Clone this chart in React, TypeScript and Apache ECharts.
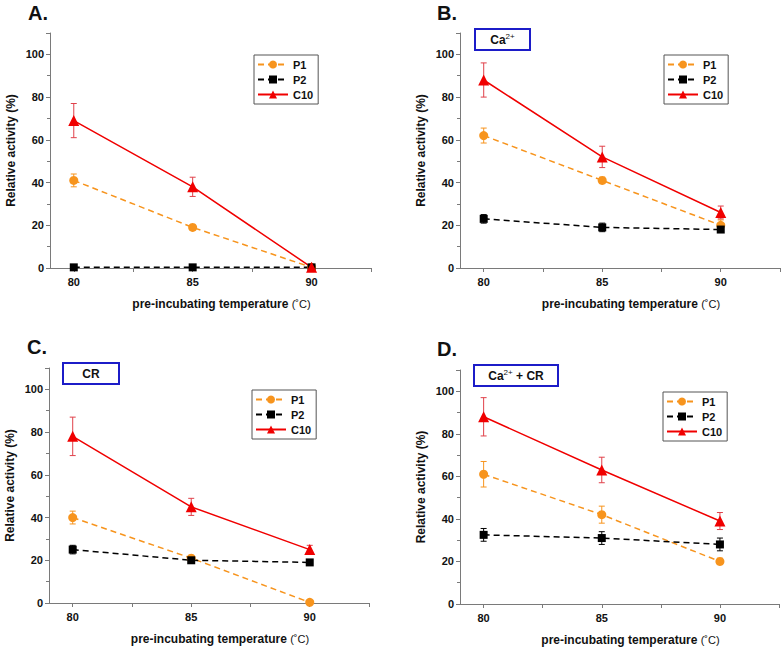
import React, { useEffect, useRef } from "react";
import * as echarts from "echarts";

// x categories (pre-incubating temperature, °C)
const temps = [80, 85, 90];
const seriesNames = ["P1", "P2", "C10"];
const yLabelValues = [0, 20, 40, 60, 80, 100];
const xLabelValues = [80, 85, 90];
const xTickValues = [80, 82.5, 85, 87.5, 90, 92.5];

// Panel A (no additive)
const aP1 = [41, 19, 0.3];
const aP1Err = [3, 1, 0];
const aP2 = [0.3, 0.3, 0.3];
const aP2Err = [0, 0, 0];
const aC10 = [69, 38, 0.3];
const aC10Err = [8, 4.5, 0];

// Panel B (Ca2+)
const bP1 = [62, 41, 20];
const bP1Err = [3.5, 1.5, 2.5];
const bP2 = [23, 19, 18];
const bP2Err = [2, 2, 1];
const bC10 = [88, 52, 26];
const bC10Err = [8, 5, 3];

// Panel C (CR)
const cP1 = [40, 21, 0.3];
const cP1Err = [3, 1, 0];
const cP2 = [25, 20, 19];
const cP2Err = [2, 1.5, 1];
const cC10 = [78, 45, 25];
const cC10Err = [9, 4, 2];

// Panel D (Ca2+ + CR)
const dP1 = [61, 42, 20];
const dP1Err = [6, 4, 1.5];
const dP2 = [32.5, 31, 28];
const dP2Err = [3, 3, 3];
const dC10 = [88, 63, 39];
const dC10Err = [9, 6, 4];

const FONT = "Arial, 'Liberation Sans', sans-serif";
const ORANGE = "#f7941d";
const RED = "#f00000";
const ERR_RED = "#e0404a";
const AXIS = "#7a7a7a";

type Panel = {
  letter: string;
  grid: { left: number; top: number; width: number; height: number };
  letterPos: [number, number];
  legendPos: [number, number];
  box?: { x: number; y: number; w: number; h: number; text: string };
  means: number[][];
  errs: number[][];
};

const panels: Panel[] = [
  {
    letter: "A.",
    grid: { left: 50, top: 33, width: 321, height: 235 },
    letterPos: [28, 13],
    legendPos: [254, 55],
    means: [aP1, aP2, aC10],
    errs: [aP1Err, aP2Err, aC10Err],
  },
  {
    letter: "B.",
    grid: { left: 460, top: 33, width: 320, height: 235 },
    letterPos: [437, 13],
    legendPos: [664, 55],
    box: { x: 475, y: 29, w: 55, h: 21, text: "{n|Ca}{s|2+}" },
    means: [bP1, bP2, bC10],
    errs: [bP1Err, bP2Err, bC10Err],
  },
  {
    letter: "C.",
    grid: { left: 49, top: 368, width: 320, height: 235 },
    letterPos: [27, 347],
    legendPos: [252, 390],
    box: { x: 63, y: 363, w: 56, h: 21, text: "{n|CR}" },
    means: [cP1, cP2, cC10],
    errs: [cP1Err, cP2Err, cC10Err],
  },
  {
    letter: "D.",
    grid: { left: 460, top: 370, width: 319, height: 234 },
    letterPos: [437, 349],
    legendPos: [663, 392],
    box: { x: 474, y: 365, w: 84, h: 21, text: "{n|Ca}{s|2+}{n| + CR}" },
    means: [dP1, dP2, dC10],
    errs: [dP1Err, dP2Err, dC10Err],
  },
];

const styles = [
  { color: ORANGE, errColor: ORANGE, symbol: "circle", size: 9, type: [6, 4] as any },
  { color: "#000", errColor: "#000", symbol: "rect", size: 8, type: [6, 4] as any },
  { color: RED, errColor: ERR_RED, symbol: "triangle", size: 11, type: "solid" as any },
];

function buildOption() {
  const grid: any[] = [];
  const xAxis: any[] = [];
  const yAxis: any[] = [];
  const series: any[] = [];
  const legend: any[] = [];
  const graphic: any[] = [];

  panels.forEach((p, pi) => {
    grid.push({ ...p.grid });
    xAxis.push({
      type: "value",
      gridIndex: pi,
      min: 79,
      max: 92.5,
      name: "{b|pre-incubating temperature} {c|(˚C)}",
      nameLocation: "middle",
      nameGap: 30,
      nameTextStyle: {
        padding: [0, 0, 0, 22],
        rich: {
          b: { fontFamily: FONT, fontWeight: "bold", fontSize: 12, color: "#111" },
          c: { fontFamily: FONT, fontSize: 11, color: "#111" },
        },
      },
      axisLine: { show: true, onZero: false, lineStyle: { color: AXIS, width: 1 } },
      axisTick: { show: true, length: 4, customValues: xTickValues, lineStyle: { color: AXIS } },
      axisLabel: {
        customValues: xLabelValues,
        fontFamily: FONT,
        fontWeight: "bold",
        fontSize: 11,
        color: "#111",
        margin: 8,
      },
      splitLine: { show: false },
    });
    yAxis.push({
      type: "value",
      gridIndex: pi,
      min: 0,
      max: 110,
      interval: 20,
      name: "Relative activity (%)",
      nameLocation: "middle",
      nameGap: 33,
      nameTextStyle: { fontFamily: FONT, fontWeight: "bold", fontSize: 12, color: "#111" },
      axisLine: { show: true, onZero: false, lineStyle: { color: AXIS, width: 1 } },
      axisTick: { show: true, length: 4, lineStyle: { color: AXIS } },
      minorTick: { show: true, splitNumber: 2, length: 3, lineStyle: { color: AXIS } },
      axisLabel: {
        customValues: yLabelValues,
        fontFamily: FONT,
        fontWeight: "bold",
        fontSize: 11,
        color: "#111",
        margin: 6,
      },
      splitLine: { show: false },
      minorSplitLine: { show: false },
    });

    seriesNames.forEach((name, si) => {
      const st = styles[si];
      const mean = p.means[si];
      const err = p.errs[si];
      series.push({
        type: "custom",
        name: "err_" + pi + "_" + name,
        xAxisIndex: pi,
        yAxisIndex: pi,
        z: 1,
        silent: true,
        data: temps.map((t, k) => [t, mean[k] - err[k], mean[k] + err[k]]),
        encode: { x: 0, y: [1, 2] },
        renderItem: (params: any, api: any) => {
          const x = api.value(0);
          const lo = api.value(1);
          const hi = api.value(2);
          if (hi - lo <= 0) return { type: "group", children: [] };
          const top = api.coord([x, hi]);
          const bot = api.coord([x, lo]);
          const w = 3;
          const s = { stroke: st.errColor, lineWidth: 1 };
          return {
            type: "group",
            children: [
              { type: "line", shape: { x1: top[0], y1: top[1], x2: bot[0], y2: bot[1] }, style: s },
              { type: "line", shape: { x1: top[0] - w, y1: top[1], x2: top[0] + w, y2: top[1] }, style: s },
              { type: "line", shape: { x1: bot[0] - w, y1: bot[1], x2: bot[0] + w, y2: bot[1] }, style: s },
            ],
          };
        },
      });
      series.push({
        type: "line",
        name,
        xAxisIndex: pi,
        yAxisIndex: pi,
        z: 3,
        data: temps.map((t, k) => [t, mean[k]]),
        symbol: st.symbol,
        symbolSize: st.size,
        showAllSymbol: true,
        color: st.color,
        itemStyle: { color: st.color },
        lineStyle: { color: st.color, width: 1.5, type: st.type },
      });
    });

    legend.push({
      data: seriesNames,
      orient: "vertical",
      left: p.legendPos[0],
      top: p.legendPos[1],
      itemWidth: 30,
      itemHeight: 10,
      itemGap: 4,
      padding: [4, 5, 4, 3],
      borderColor: "#555",
      borderWidth: 1,
      selectedMode: false,
      textStyle: { fontFamily: FONT, fontWeight: "bold", fontSize: 11, color: "#111" },
    });

    graphic.push({
      type: "text",
      left: p.letterPos[0],
      top: p.letterPos[1] - 10,
      style: { text: p.letter, font: `bold 20px ${FONT}`, fill: "#111" },
    });

    if (p.box) {
      graphic.push({
        type: "rect",
        shape: { x: p.box.x, y: p.box.y, width: p.box.w, height: p.box.h },
        style: { fill: "#fff", stroke: "#1c1cc8", lineWidth: 2 },
        z: 10,
      });
      graphic.push({
        type: "text",
        x: p.box.x + p.box.w / 2,
        y: p.box.y + p.box.h / 2,
        z: 11,
        style: {
          text: p.box.text,
          align: "center",
          verticalAlign: "middle",
          rich: {
            n: { fontFamily: FONT, fontWeight: "bold", fontSize: 12, fill: "#111", lineHeight: 14 },
            s: { fontFamily: FONT, fontSize: 8, fill: "#111", verticalAlign: "top", lineHeight: 14, padding: [0, 0, 4, 0] },
          },
        },
      });
    }
  });

  return {
    animation: false,
    backgroundColor: "#fff",
    grid,
    xAxis,
    yAxis,
    series,
    legend,
    graphic,
  };
}

export default function App() {
  const ref = useRef<HTMLDivElement>(null);
  useEffect(() => {
    document.body.style.margin = "0";
    const chart = echarts.init(ref.current!, undefined, { renderer: "svg" });
    chart.setOption(buildOption() as any);
    return () => chart.dispose();
  }, []);
  return <div ref={ref} style={{ width: 784, height: 651, position: "absolute", left: 0, top: 0 }} />;
}
